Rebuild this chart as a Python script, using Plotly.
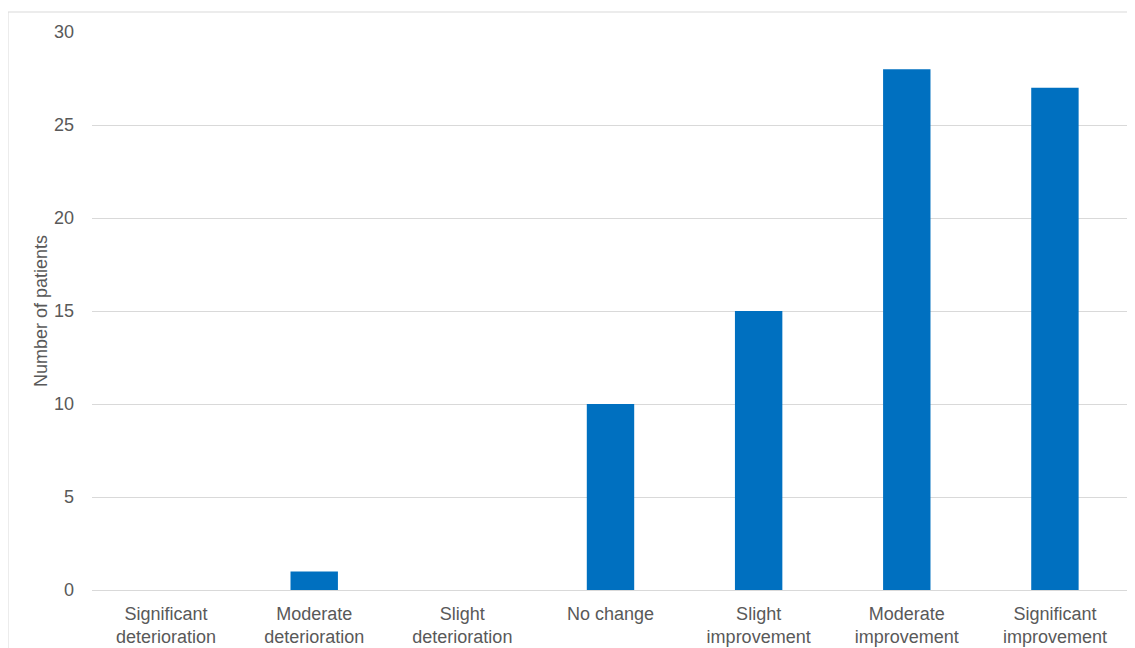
import plotly.graph_objects as go

categories = ["Significant<br>deterioration", "Moderate<br>deterioration", "Slight<br>deterioration",
              "No change", "Slight<br>improvement", "Moderate<br>improvement", "Significant<br>improvement"]
patients = [0, 1, 0, 10, 15, 28, 27]
y_ticks = [0, 5, 10, 15, 20, 25, 30]

W, H = 1135, 648
OFF = 8  # page body margin
L, T = 92 - OFF, 32 - OFF
pw, ph = 1037, 558
R = W - L - pw
B = H - T - ph

fig = go.Figure(go.Bar(x=categories, y=patients, marker=dict(color="#0070C0", line=dict(width=0)),
                       width=0.32))

fig.update_layout(
    width=W, height=H,
    margin=dict(l=L, r=R, t=T, b=B),
    paper_bgcolor="white", plot_bgcolor="white",
    font=dict(family="Liberation Sans, Arial, sans-serif", color="#595959", size=18),
    showlegend=False,
    xaxis=dict(showgrid=False, showline=True, linecolor="#d9d9d9", linewidth=1, automargin=False,
               tickfont=dict(size=18, color="#595959"), ticks="", ticklabelstandoff=7),
    yaxis=dict(range=[0, 30], tickvals=y_ticks, showgrid=True, gridcolor="#d9d9d9", gridwidth=1,
               zeroline=False, showline=False, ticks="", tickfont=dict(size=18, color="#595959"),
               ticklabelstandoff=17, automargin=False,
               title=dict(text="Number of patients", font=dict(size=18, color="#595959"), standoff=1)),
    shapes=[dict(type="rect", xref="paper", yref="paper",
                 x0=(0 - L) / pw, x1=(W + 20 - L) / pw,
                 y0=-(H + 20 - T - ph) / ph, y1=1 + (T - 4) / ph,
                 line=dict(color="#d9d9d9", width=1), fillcolor="rgba(0,0,0,0)", layer="below")],
)

fig.write_html("out.html")
